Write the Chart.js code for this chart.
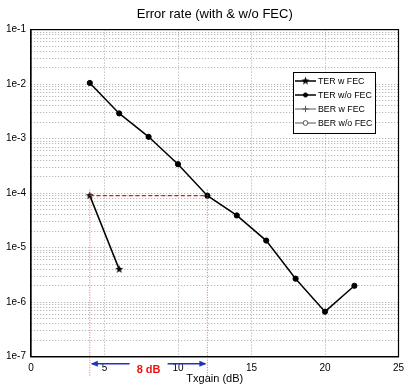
<!DOCTYPE html>
<html><head><meta charset="utf-8">
<script src="https://cdn.jsdelivr.net/npm/chart.js@4"></script>
<style>html,body{margin:0;padding:0;background:#fff}#wrap{width:404px;height:386px}</style>
</head><body><div id="wrap"><canvas id="c" width="404" height="386"></canvas></div>
<script>
// ---- data ----
const txGainWo = [4, 6, 8, 10, 12, 14, 16, 18, 20, 22];
const terWoFec = [1.05e-2, 2.9e-3, 1.08e-3, 3.4e-4, 9.0e-5, 3.9e-5, 1.35e-5, 2.7e-6, 6.7e-7, 2.0e-6];
const txGainW = [4, 6];
const terWFec = [9.0e-5, 4.0e-6];
const berWFec = [];
const berWoFec = [];
const seriesLabels = ['TER w FEC', 'TER w/o FEC', 'BER w FEC', 'BER w/o FEC'];
const xTicks = [0, 5, 10, 15, 20, 25];
const yDecades = [-7, -6, -5, -4, -3, -2, -1];
const gainPoints = [4, 12];
const gainLevel = 9.0e-5;
const gainLabel = '8 dB';
const titleText = 'Error rate (with & w/o FEC)';
const xTitle = 'Txgain (dB)';

const FONT = "'Liberation Sans', Arial, Helvetica, sans-serif";
const pts = (xs, ys) => ys.map((y, i) => ({x: xs[i], y}));
const isMajor = v => Math.abs(Math.log10(v) - Math.round(Math.log10(v))) < 1e-6;

// filled five-point star marker
function makeStar(r, color) {
  const c = document.createElement('canvas');
  const s = Math.ceil(r * 2 + 2);
  c.width = s; c.height = s;
  const g = c.getContext('2d');
  g.fillStyle = color;
  g.beginPath();
  for (let i = 0; i < 10; i++) {
    const rr = i % 2 === 0 ? r : r * 0.42;
    const ang = -Math.PI / 2 + i * Math.PI / 5;
    const px = s / 2 + rr * Math.cos(ang), py = s / 2 + rr * Math.sin(ang);
    if (i === 0) g.moveTo(px, py); else g.lineTo(px, py);
  }
  g.closePath(); g.fill();
  return c;
}
const starImg = makeStar(4.2, '#000');

const framePlugin = {
  id: 'frame',
  afterDatasetsDraw(chart) {
    const {ctx, chartArea: a} = chart;
    ctx.save();
    ctx.strokeStyle = '#000'; ctx.lineWidth = 1.2;
    ctx.strokeRect(a.left, a.top, a.right - a.left, a.bottom - a.top);
    ctx.restore();
  }
};

const gainPlugin = {
  id: 'gain',
  afterDraw(chart) {
    const {ctx, chartArea: a, scales} = chart;
    const x1 = scales.x.getPixelForValue(gainPoints[0]);
    const x2 = scales.x.getPixelForValue(gainPoints[1]);
    const yl = scales.y.getPixelForValue(gainLevel);
    ctx.save();
    ctx.strokeStyle = 'rgba(240,50,50,0.75)'; ctx.lineWidth = 1; ctx.setLineDash([1, 1.5]);
    [x1, x2].forEach(x => { ctx.beginPath(); ctx.moveTo(x, yl - 6); ctx.lineTo(x, chart.height - 10); ctx.stroke(); });
    ctx.strokeStyle = '#ee1111'; ctx.lineWidth = 1.2; ctx.setLineDash([4, 2.5]);
    ctx.beginPath(); ctx.moveTo(x1, yl); ctx.lineTo(x2, yl); ctx.stroke();
    ctx.setLineDash([]);
    const ya = a.bottom + 7;
    const mid = (x1 + x2) / 2;
    ctx.strokeStyle = '#2233bb'; ctx.fillStyle = '#2233bb'; ctx.lineWidth = 1.5;
    ctx.beginPath(); ctx.moveTo(x1 + 2, ya); ctx.lineTo(mid - 19, ya); ctx.stroke();
    ctx.beginPath(); ctx.moveTo(mid + 19, ya); ctx.lineTo(x2 - 2, ya); ctx.stroke();
    ctx.beginPath(); ctx.moveTo(x1 + 1, ya); ctx.lineTo(x1 + 8, ya - 3); ctx.lineTo(x1 + 8, ya + 3); ctx.closePath(); ctx.fill();
    ctx.beginPath(); ctx.moveTo(x2 - 1, ya); ctx.lineTo(x2 - 8, ya - 3); ctx.lineTo(x2 - 8, ya + 3); ctx.closePath(); ctx.fill();
    ctx.fillStyle = '#ee1111'; ctx.font = 'bold 11px ' + FONT;
    ctx.textAlign = 'center'; ctx.textBaseline = 'middle';
    ctx.fillText(gainLabel, mid, ya + 6.5);
    ctx.restore();
  }
};

const legendPlugin = {
  id: 'boxLegend',
  afterDraw(chart) {
    const {ctx, chartArea: a} = chart;
    const w = 82, h = 61;
    const x0 = Math.round(a.right - 24 - w), y0 = Math.round(a.top + 42.5);
    ctx.save();
    ctx.fillStyle = '#fff'; ctx.fillRect(x0, y0, w, h);
    ctx.strokeStyle = '#000'; ctx.lineWidth = 1; ctx.strokeRect(x0 + 0.5, y0 + 0.5, w, h);
    chart.data.datasets.forEach((ds, i) => {
      const y = y0 + 9 + i * 14;
      ctx.strokeStyle = ds.borderColor; ctx.lineWidth = ds.borderWidth;
      ctx.beginPath(); ctx.moveTo(x0 + 2, y); ctx.lineTo(x0 + 23, y); ctx.stroke();
      ctx.fillStyle = ds.pointBackgroundColor || ds.borderColor;
      ctx.strokeStyle = ds.pointBorderColor || ds.borderColor;
      ctx.lineWidth = ds.pointBorderWidth || 1;
      if (Chart.helpers && Chart.helpers.drawPoint) {
        const r = typeof ds.pointStyle === 'string' ? ds.pointRadius * 0.8 : ds.pointRadius;
        Chart.helpers.drawPoint(ctx, {pointStyle: ds.pointStyle, radius: r, borderWidth: ctx.lineWidth, rotation: 0}, x0 + 12.5, y);
      }
      ctx.fillStyle = '#000'; ctx.font = '8.8px ' + FONT;
      ctx.textAlign = 'left'; ctx.textBaseline = 'middle';
      ctx.fillText(ds.label, x0 + 25, y + 0.5);
    });
    ctx.restore();
  }
};

const GRID = '#a8a8a8';

new Chart(document.getElementById('c').getContext('2d'), {
  type: 'line',
  data: {
    datasets: [
      {label: seriesLabels[0], data: pts(txGainW, terWFec), borderColor: '#000', borderWidth: 1.5,
       pointStyle: starImg, pointRadius: 4.5, pointBorderColor: '#000', pointBackgroundColor: '#000', pointBorderWidth: 1},
      {label: seriesLabels[1], data: pts(txGainWo, terWoFec), borderColor: '#000', borderWidth: 1.5,
       pointStyle: 'circle', pointRadius: 2.6, pointBorderColor: '#000', pointBackgroundColor: '#000', pointBorderWidth: 1},
      {label: seriesLabels[2], data: pts([], berWFec), borderColor: '#555', borderWidth: 1,
       pointStyle: 'cross', pointRadius: 4, pointBorderColor: '#555', pointBackgroundColor: '#555', pointBorderWidth: 1},
      {label: seriesLabels[3], data: pts([], berWoFec), borderColor: '#555', borderWidth: 1,
       pointStyle: 'circle', pointRadius: 3, pointBorderColor: '#555', pointBackgroundColor: '#fff', pointBorderWidth: 1}
    ]
  },
  options: {
    responsive: false, animation: false, devicePixelRatio: 1,
    layout: {padding: {left: 0, right: 4, top: 0, bottom: 0}},
    plugins: {
      legend: {display: false}, tooltip: {enabled: false},
      title: {display: true, fullSize: false, text: titleText, color: '#000',
              font: {family: FONT, size: 13, weight: 'normal'}, padding: {top: 7, bottom: 7}}
    },
    scales: {
      x: {
        type: 'linear', min: 0, max: 25,
        afterBuildTicks: s => { s.ticks = xTicks.map(v => ({value: v})); },
        afterFit: s => { s.height = 29.3; s.paddingRight = 0; s.paddingLeft = 0; },
        ticks: {color: '#000', font: {family: FONT, size: 10}, padding: 6, maxRotation: 0, autoSkip: false},
        grid: {drawTicks: false, lineWidth: 1,
               color: c => (c.tick && (c.tick.value === 0 || c.tick.value === 25)) ? 'rgba(0,0,0,0)' : GRID},
        border: {display: true, color: '#000', width: 1.2, dash: [1, 2]},
        title: {display: true, text: xTitle, color: '#000', font: {family: FONT, size: 11}, padding: {top: 0, bottom: 0}}
      },
      y: {
        type: 'logarithmic', min: 1e-7, max: 1e-1,
        afterBuildTicks: s => {
          const t = [];
          yDecades.forEach(e => {
            const mMax = e === -1 ? 1 : 9;
            for (let m = 1; m <= mMax; m++) t.push({value: m * Math.pow(10, e)});
          });
          s.ticks = t;
        },
        afterFit: s => { s.width = 31; },
        ticks: {color: '#000', font: {family: FONT, size: 10}, padding: 5, autoSkip: false,
                callback: v => isMajor(v) ? ('1e' + Math.round(Math.log10(v))) : ''},
        grid: {drawTicks: false, lineWidth: 1,
               color: c => (c.tick && (Math.abs(c.tick.value - 1e-7) < 1e-12 || Math.abs(c.tick.value - 1e-1) < 1e-9)) ? 'rgba(0,0,0,0)' : GRID},
        border: {display: true, color: '#000', width: 1.2, dash: [1, 2]}
      }
    }
  },
  plugins: [framePlugin, gainPlugin, legendPlugin]
});
</script>
</body></html>
